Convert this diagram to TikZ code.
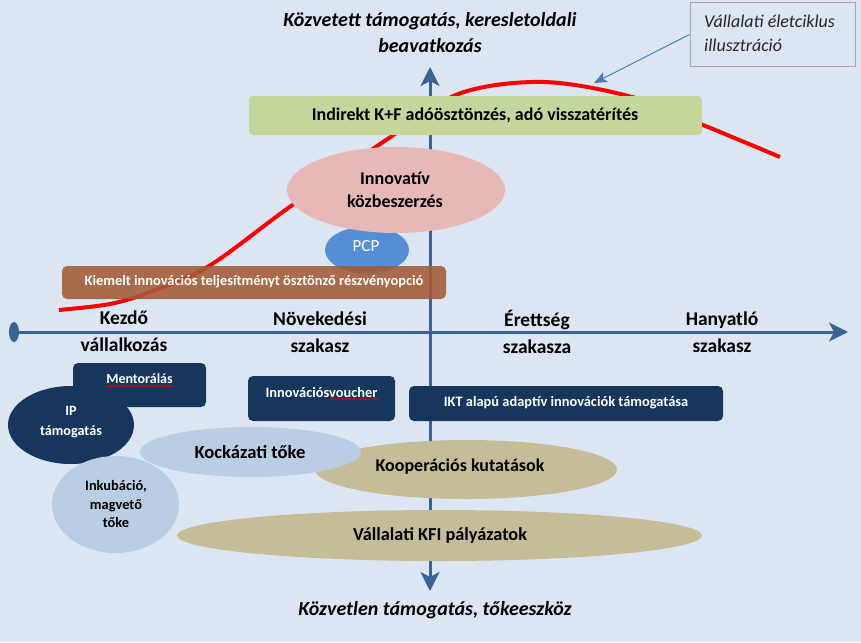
\documentclass[tikz,border=0pt]{standalone}
\usepackage{fontspec}
\setmainfont{Carlito}
\usetikzlibrary{arrows.meta,shapes.geometric,decorations.pathmorphing}
\definecolor{bgc}{HTML}{DCE6F2}
\definecolor{axisc}{HTML}{3A6395}
\definecolor{greenc}{HTML}{C3D69B}
\definecolor{pinkc}{HTML}{E6B9B8}
\definecolor{pcpc}{HTML}{558ED5}
\definecolor{brownc}{HTML}{A35A36}
\definecolor{navyc}{HTML}{17365D}
\definecolor{lbluec}{HTML}{B9CDE5}
\definecolor{tanc}{HTML}{C4BD97}
\definecolor{callc}{HTML}{4A7EBB}
\definecolor{grayc}{HTML}{A6A6A6}
\tikzset{
  axisline/.style={draw=axisc, line width=3pt, -{Stealth[length=19pt,width=19pt,inset=5pt]}},
  boxnavy/.style={fill=navyc, rounded corners=5pt, inner sep=0pt},
  ell/.style={ellipse, inner sep=0pt},
  whitetxt/.style={text=white, font=\fontsize{14.4}{19}\selectfont\bfseries, align=center, inner sep=0pt},
  blacktxt/.style={text=black, align=center, inner sep=0pt},
  stagelab/.style={blacktxt, font=\fontsize{19.5}{27}\selectfont\bfseries},
  squiggle/.style={draw=red!85!black, line width=0.8pt, decorate, decoration={snake, segment length=2.5pt, amplitude=0.7pt}},
}
\begin{document}
\begin{tikzpicture}[x=1pt,y=-1pt]
\path[use as bounding box, fill=bgc] (0,0) rectangle (861,642);
% axes
\coordinate (hstart) at (14,332);
\coordinate (hend) at (848,332);
\coordinate (vbot) at (430,591);
\coordinate (vtop) at (430,67);
\coordinate (vmid) at (430,332);
\draw[axisline] (vmid) -- (vtop);
\draw[axisline] (vmid) -- (vbot);
\draw[axisline] (hstart) -- (hend);
\node[ell, fill=axisc, minimum width=10pt, minimum height=20pt] (hdot) at (14,332) {};
% red life-cycle curve
\draw[red, line width=4pt] plot[smooth, tension=0.55] coordinates {(59,310) (110,304) (150,292) (209,266) (291,206) (395,134) (461,93) (544,82) (632,97) (703,125) (780,157)};
% green box
\node[fill=greenc, rounded corners=4pt, minimum width=453pt, minimum height=39pt, inner sep=0pt] (indirekt) at (475.5,115.5) {};
\node[blacktxt, font=\fontsize{18}{20}\selectfont\bfseries] (indirekt-t) at (475,115) {Indirekt K+F adóösztönzés, adó visszatérítés};
% PCP
\node[ell, fill=pcpc, minimum width=84pt, minimum height=47pt] (pcp) at (367,250) {};
% pink ellipse
\node[ell, fill=pinkc, minimum width=218pt, minimum height=86pt] (innov) at (396,190) {};
\node[blacktxt, font=\fontsize{18}{23}\selectfont\bfseries] (innov-t) at (395,190) {Innovatív\\közbeszerzés};
\node[text=white, inner sep=0pt, font=\fontsize{17}{18}\selectfont] (pcp-t) at (366,246) {PCP};
% brown box
\node[fill=brownc, fill opacity=0.88, rounded corners=5pt, minimum width=384pt, minimum height=33pt, inner sep=0pt] (kiemelt) at (254,282.5) {};
\node[whitetxt] (kiemelt-t) at (254,282) {Kiemelt innovációs teljesítményt ösztönző részvényopció};
% axis labels
\node[stagelab] (kezdo) at (124,331) {Kezdő\\vállalkozás};
\node[stagelab] (novek) at (320,332) {Növekedési\\szakasz};
\node[stagelab] (erett) at (537,332) {Érettség\\szakasza};
\node[stagelab] (hanyat) at (722,332) {Hanyatló\\szakasz};
% navy boxes
\node[boxnavy, minimum width=133pt, minimum height=44pt] (mentor) at (139.5,385) {};
\node[whitetxt, font=\fontsize{14}{19}\selectfont\bfseries] (mentor-t) at (139.5,379) {Mentorálás};
\draw[squiggle] (106,386) -- (173,386);
\node[boxnavy, minimum width=147pt, minimum height=45pt] (voucher) at (321.5,398.5) {};
\node[whitetxt] (voucher-t) at (321.5,392) {Innovációsvoucher};
\draw[squiggle] (330,399) -- (379,399);
\node[boxnavy, minimum width=314pt, minimum height=35pt] (ikt) at (566,403.5) {};
\node[whitetxt] (ikt-t) at (566,403) {IKT alapú adaptív innovációk támogatása};
% IP ellipse
\node[ell, fill=navyc, minimum width=126pt, minimum height=78pt] (ip) at (71,425) {};
\node[whitetxt, font=\fontsize{14.2}{20}\selectfont\bfseries] (ip-t) at (71,422) {IP\\támogatás};
% Inkubáció
\node[ell, fill=lbluec, minimum width=127pt, minimum height=97pt] (inkub) at (115.5,504.5) {};
\node[blacktxt, font=\fontsize{14.4}{18.5}\selectfont\bfseries] (inkub-t) at (116,504) {Inkubáció,\\magvető\\tőke};
% Kooperációs
\node[ell, fill=tanc, minimum width=302pt, minimum height=59pt] (koop) at (466,469.5) {};
\node[blacktxt, font=\fontsize{18}{20}\selectfont\bfseries] (koop-t) at (460,467) {Kooperációs kutatások};
% Kockázati
\node[ell, fill=lbluec, minimum width=221pt, minimum height=50pt] (kock) at (250.5,452) {};
\node[blacktxt, font=\fontsize{18.6}{20}\selectfont\bfseries] (kock-t) at (250,452) {Kockázati tőke};
% Vállalati KFI
\node[ell, fill=tanc, minimum width=525pt, minimum height=51pt] (kfi) at (439.5,535.5) {};
\node[blacktxt, font=\fontsize{18.3}{20}\selectfont\bfseries] (kfi-t) at (440,535) {Vállalati KFI pályázatok};
% top / bottom labels
\node[blacktxt, font=\fontsize{20}{26}\selectfont\bfseries\itshape] (toplab) at (430,33) {Közvetett támogatás, keresletoldali\\beavatkozás};
\node[blacktxt, font=\fontsize{20}{26}\selectfont\bfseries\itshape] (botlab) at (435,610) {Közvetlen támogatás, tőkeeszköz};
% callout
\node[draw=grayc, fill=bgc, line width=1pt, minimum width=165pt, minimum height=63pt, inner sep=0pt] (callout) at (772.5,34.5) {};
\node[blacktxt, align=left, anchor=west, font=\fontsize{18}{24}\selectfont\itshape, text=black!85] (callout-t) at (704,33) {Vállalati életciklus\\illusztráció};
\coordinate (calltip) at (594,83);
\draw[callc, line width=1pt, -{Stealth[length=13pt,width=11pt,inset=3pt]}] (callout.west) -- (calltip);
\end{tikzpicture}
\end{document}
